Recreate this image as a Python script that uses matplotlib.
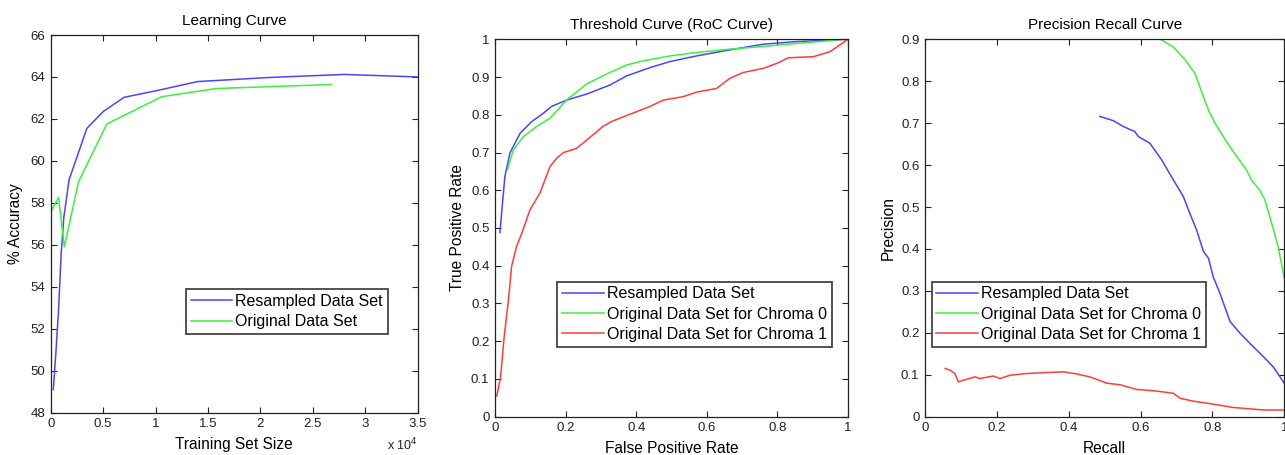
import matplotlib
matplotlib.use("Agg")
import matplotlib.pyplot as plt
from matplotlib.ticker import FuncFormatter, FormatStrFormatter

plt.rcParams['font.family'] = ['Liberation Sans', 'DejaVu Sans']

# ---------------- data ----------------
# Learning curve
lc_res_x = [250, 500, 750, 1000, 1250, 1750, 3450, 5000, 7000, 10400, 14000, 21000, 28000, 35000]
lc_res_y = [49.1, 50.9, 52.9, 55.6, 57.3, 59.1, 61.55, 62.35, 63.03, 63.38, 63.78, 63.98, 64.12, 64.0]
lc_org_x = [100, 750, 1300, 2650, 5350, 10600, 15800, 26800]
lc_org_y = [57.66, 58.26, 55.9, 59.0, 61.76, 63.06, 63.45, 63.64]

# ROC curves
roc_res_x = [0.014, 0.022, 0.028, 0.042, 0.071, 0.104, 0.137, 0.16, 0.203, 0.26, 0.326, 0.373,
             0.439, 0.496, 0.571, 0.666, 0.76, 0.855, 1.0]
roc_res_y = [0.488, 0.574, 0.636, 0.698, 0.751, 0.782, 0.804, 0.822, 0.839, 0.855, 0.879, 0.903,
             0.925, 0.941, 0.956, 0.972, 0.987, 0.994, 1.0]
roc_c0_x = [0.035, 0.052, 0.08, 0.118, 0.156, 0.203, 0.26, 0.316, 0.373, 0.42, 0.496, 0.571,
            0.666, 0.76, 0.855, 0.968]
roc_c0_y = [0.654, 0.707, 0.742, 0.769, 0.791, 0.839, 0.882, 0.908, 0.932, 0.943, 0.956, 0.965,
            0.974, 0.981, 0.989, 0.998]
roc_c1_x = [0.005, 0.016, 0.025, 0.038, 0.047, 0.061, 0.076, 0.099, 0.127, 0.156, 0.175, 0.194,
            0.231, 0.269, 0.307, 0.33, 0.364, 0.401, 0.439, 0.477, 0.533, 0.571, 0.628, 0.666,
            0.703, 0.76, 0.798, 0.831, 0.902, 0.949, 1.0]
roc_c1_y = [0.055, 0.106, 0.203, 0.309, 0.398, 0.451, 0.486, 0.548, 0.592, 0.663, 0.685, 0.70,
            0.711, 0.74, 0.77, 0.782, 0.795, 0.808, 0.822, 0.839, 0.848, 0.86, 0.87, 0.897,
            0.912, 0.923, 0.936, 0.951, 0.954, 0.967, 1.0]

# Precision-recall curves
pr_res_x = [0.487, 0.524, 0.552, 0.584, 0.594, 0.626, 0.659, 0.691, 0.719, 0.737, 0.756, 0.775,
            0.789, 0.802, 0.821, 0.849, 0.877, 0.904, 0.942, 0.969, 1.0]
pr_res_y = [0.716, 0.706, 0.692, 0.68, 0.668, 0.652, 0.612, 0.565, 0.525, 0.485, 0.445, 0.394,
            0.378, 0.334, 0.294, 0.227, 0.199, 0.175, 0.143, 0.119, 0.080]
pr_c0_x = [0.655, 0.691, 0.724, 0.751, 0.775, 0.789, 0.807, 0.83, 0.858, 0.895, 0.909, 0.932,
           0.946, 0.965, 0.983, 1.0]
pr_c0_y = [0.90, 0.882, 0.851, 0.819, 0.763, 0.731, 0.70, 0.668, 0.632, 0.588, 0.564, 0.54,
           0.517, 0.461, 0.405, 0.33]
pr_c1_x = [0.056, 0.07, 0.083, 0.093, 0.107, 0.139, 0.153, 0.19, 0.209, 0.237, 0.283, 0.329,
           0.385, 0.422, 0.459, 0.506, 0.543, 0.589, 0.635, 0.691, 0.71, 0.747, 0.802, 0.858,
           0.942, 1.0]
pr_c1_y = [0.115, 0.111, 0.103, 0.083, 0.087, 0.095, 0.091, 0.097, 0.091, 0.099, 0.103, 0.105,
           0.107, 0.102, 0.095, 0.080, 0.076, 0.065, 0.062, 0.056, 0.044, 0.037, 0.030, 0.022,
           0.016, 0.016]

lbl_res = 'Resampled Data Set'
lbl_org = 'Original Data Set'
lbl_c0 = 'Original Data Set for Chroma 0'
lbl_c1 = 'Original Data Set for Chroma 1'

BLUE = '#4646ff'
GREEN = '#3cf03c'
RED = '#ff3c3c'
LW = 1.1

W, H = 1285, 455
fig = plt.figure(figsize=(W / 100, H / 100), dpi=100)


def px_axes(l, t, r, b):
    return fig.add_axes([l / W, 1 - b / H, (r - l) / W, (b - t) / H])


def style(ax):
    ax.tick_params(direction='in', top=True, right=True, length=4, width=0.8,
                   labelsize=9.5, pad=4, colors='#222222')
    for s in ax.spines.values():
        s.set_linewidth(0.9)
        s.set_color('#222222')


def legend(ax, x, y):
    lg = ax.legend(loc='upper left', bbox_to_anchor=(x, y), fontsize=11.5,
                   handlelength=2.6, handletextpad=0.2, labelspacing=0.33,
                   borderpad=0.3, borderaxespad=0, fancybox=False, framealpha=1)
    lg.get_frame().set_edgecolor('#444444')
    lg.get_frame().set_linewidth(1.3)
    return lg


# Panel 1
ax1 = px_axes(50.7, 35, 417.7, 412.7)
ax1.plot(lc_res_x, lc_res_y, color=BLUE, lw=LW, label=lbl_res)
ax1.plot(lc_org_x, lc_org_y, color=GREEN, lw=LW, label=lbl_org)
ax1.set_xlim(0, 35000)
ax1.set_ylim(48, 66)
ax1.set_xticks([0, 5000, 10000, 15000, 20000, 25000, 30000, 35000])
ax1.set_yticks(range(48, 67, 2))
ax1.xaxis.set_major_formatter(FuncFormatter(lambda v, p: '%g' % (v / 1e4)))
style(ax1)
ax1.set_title('Learning Curve', fontsize=11, pad=7.5)
ax1.set_xlabel('Training Set Size', fontsize=11.2, labelpad=4.5)
ax1.set_ylabel('% Accuracy', fontsize=11.2, labelpad=5)
ax1.text(1.0, -0.1, r'x 10$^{4}$', transform=ax1.transAxes, ha='right', va='baseline',
         fontsize=9, color='#222222')
legend(ax1, 0.368, 0.327)

# Panel 2
ax2 = px_axes(495, 39.3, 848, 416.7)
ax2.plot(roc_res_x, roc_res_y, color=BLUE, lw=LW, label=lbl_res)
ax2.plot(roc_c0_x, roc_c0_y, color=GREEN, lw=LW, label=lbl_c0)
ax2.plot(roc_c1_x, roc_c1_y, color=RED, lw=LW, label=lbl_c1)
ax2.set_xlim(0, 1)
ax2.set_ylim(0, 1)
ax2.set_xticks([0, 0.2, 0.4, 0.6, 0.8, 1.0])
ax2.set_yticks([i / 10 for i in range(11)])
ax2.xaxis.set_major_formatter(FormatStrFormatter('%g'))
ax2.yaxis.set_major_formatter(FormatStrFormatter('%g'))
style(ax2)
ax2.set_title('Threshold Curve (RoC Curve)', fontsize=11, pad=7.5)
ax2.set_xlabel('False Positive Rate', fontsize=11.2, labelpad=4.5)
ax2.set_ylabel('True Positive Rate', fontsize=11.2, labelpad=4)
legend(ax2, (557.3 - 495) / 353, (416.7 - 281.7) / 377.4)

# Panel 3
ax3 = px_axes(925, 39.3, 1284.3, 416.7)
ax3.plot(pr_res_x, pr_res_y, color=BLUE, lw=LW, label=lbl_res)
ax3.plot(pr_c0_x, pr_c0_y, color=GREEN, lw=LW, label=lbl_c0)
ax3.plot(pr_c1_x, pr_c1_y, color=RED, lw=LW, label=lbl_c1)
ax3.set_xlim(0, 1)
ax3.set_ylim(0, 0.9)
ax3.set_xticks([0, 0.2, 0.4, 0.6, 0.8, 1.0])
ax3.set_yticks([i / 10 for i in range(10)])
ax3.xaxis.set_major_formatter(FormatStrFormatter('%g'))
ax3.yaxis.set_major_formatter(FormatStrFormatter('%g'))
style(ax3)
ax3.set_title('Precision Recall Curve', fontsize=11, pad=7.5)
ax3.set_xlabel('Recall', fontsize=11.2, labelpad=4.5)
ax3.set_ylabel('Precision', fontsize=11.2, labelpad=4)
legend(ax3, (931.7 - 925) / 359.3, (416.7 - 281.7) / 377.4)

fig.savefig('out.png', dpi=100)
